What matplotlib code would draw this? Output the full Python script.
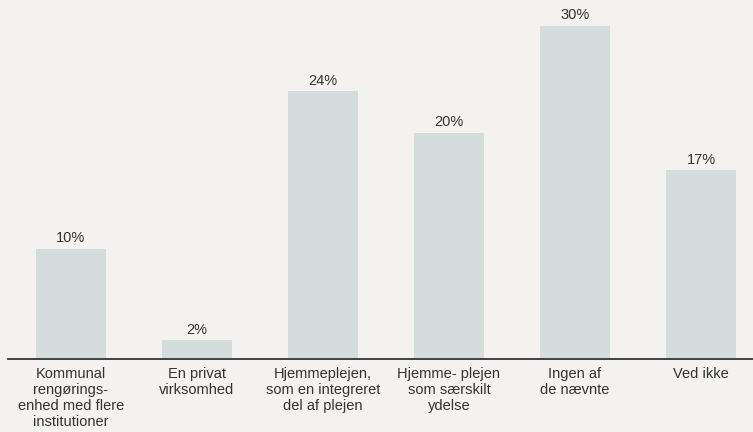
import matplotlib
matplotlib.use("Agg")
import matplotlib.pyplot as plt

categories = [
    "Kommunal\nrengørings-\nenhed med flere\ninstitutioner",
    "En privat\nvirksomhed",
    "Hjemmeplejen,\nsom en integreret\ndel af plejen",
    "Hjemme- plejen\nsom særskilt\nydelse",
    "Ingen af\nde nævnte",
    "Ved ikke",
]
values = [9.9, 1.7, 24.1, 20.4, 30.0, 17.0]
value_labels = ["10%", "2%", "24%", "20%", "30%", "17%"]

plt.rcParams['font.family'] = ['Liberation Sans', 'DejaVu Sans']

bg = "#f3f2f0"
bar_color = "#d4dddc"
text_color = "#333333"

fig = plt.figure(figsize=(7.53, 4.32), dpi=100, facecolor=bg)
W, H = 753, 432
ax = fig.add_axes([8 / W, 73 / H, 745 / W, 359 / H])
ax.set_facecolor(bg)

x = list(range(len(categories)))
ax.bar(x, values, width=70 / 126, color=bar_color, zorder=2)

ax.set_xlim(-0.5, -0.5 + 745 / 126)
ax.set_ylim(0, 359 / 11.1)

for xi, v, lab in zip(x, values, value_labels):
    ax.annotate(lab, (xi, v), xytext=(0, 2.6), textcoords="offset points",
                ha="center", va="bottom", fontsize=10.5, color=text_color)

ax.set_xticks(x)
ax.set_xticklabels(categories, fontsize=10.5, color=text_color, linespacing=1.17)
ax.tick_params(axis="x", length=0, pad=6)
ax.set_yticks([])

for s in ["top", "right", "left"]:
    ax.spines[s].set_visible(False)
ax.spines["bottom"].set_color("#333333")
ax.spines["bottom"].set_linewidth(1.3)

fig.savefig("out.png", dpi=100, facecolor=bg)
